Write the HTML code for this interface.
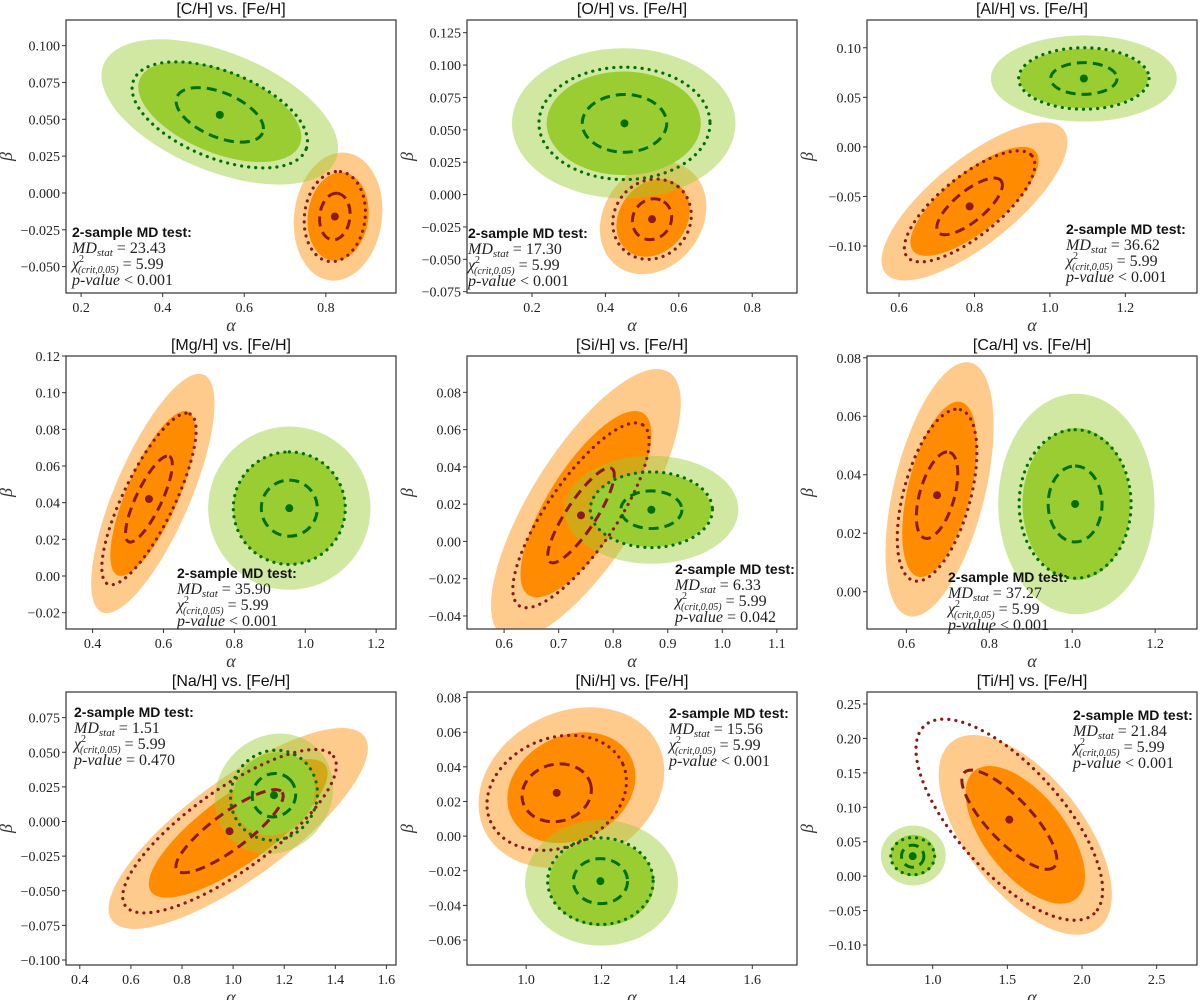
<!DOCTYPE html>
<html><head><meta charset="utf-8">
<style>
html,body{margin:0;padding:0;background:#fff;}
svg{display:block;font-family:"Liberation Serif",serif;}
.tk{font-size:14px;fill:#222;}
.ttl{font-family:"Liberation Sans",sans-serif;font-size:16px;fill:#111;}
.ann{font-size:16px;fill:#222;}
</style></head>
<body>
<svg id="fig" width="1200" height="1000" viewBox="0 0 1200 1000" xmlns="http://www.w3.org/2000/svg"></svg>
<script>
// ---- data ----
const titles = ["[C/H] vs. [Fe/H]","[O/H] vs. [Fe/H]","[Al/H] vs. [Fe/H]","[Mg/H] vs. [Fe/H]","[Si/H] vs. [Fe/H]","[Ca/H] vs. [Fe/H]","[Na/H] vs. [Fe/H]","[Ni/H] vs. [Fe/H]","[Ti/H] vs. [Fe/H]"];
const xTickVals = [[0.2,0.4,0.6,0.8],[0.2,0.4,0.6,0.8],[0.6,0.8,1.0,1.2],[0.4,0.6,0.8,1.0,1.2],[0.6,0.7,0.8,0.9,1.0,1.1],[0.6,0.8,1.0,1.2],[0.4,0.6,0.8,1.0,1.2,1.4,1.6],[1.0,1.2,1.4,1.6],[1.0,1.5,2.0,2.5]];
const xTickDec = [1,1,1,1,1,1,1,1,1];
const yTickVals = [[-0.05,-0.025,0,0.025,0.05,0.075,0.1],[-0.075,-0.05,-0.025,0,0.025,0.05,0.075,0.1,0.125],[-0.1,-0.05,0,0.05,0.1],[-0.02,0,0.02,0.04,0.06,0.08,0.1,0.12],[-0.04,-0.02,0,0.02,0.04,0.06,0.08],[0,0.02,0.04,0.06,0.08],[-0.1,-0.075,-0.05,-0.025,0,0.025,0.05,0.075],[-0.06,-0.04,-0.02,0,0.02,0.04,0.06,0.08],[-0.1,-0.05,0,0.05,0.1,0.15,0.2,0.25]];
const yTickDec = [3,3,2,2,2,2,3,2,2];
const xRanges = [[0.163,0.972],[0.023,0.922],[0.515,1.39],[0.325,1.256],[0.532,1.137],[0.505,1.301],[0.346,1.6375],[0.843,1.7186],[0.56,2.77]];
const yRanges = [[-0.0679,0.1174],[-0.076,0.1348],[-0.1474,0.128],[-0.0289,0.12],[-0.047,0.0995],[-0.01275,0.0806],[-0.1036,0.0935],[-0.0744,0.0832],[-0.129,0.2674]];
const orangeMean = [[0.822,-0.016],[0.527,-0.019],[0.787,-0.060],[0.559,0.042],[0.741,0.014],[0.674,0.033],[0.986,-0.007],[1.081,0.025],[1.513,0.082]];
const greenMean  = [[0.540,0.053],[0.452,0.055],[1.090,0.069],[0.955,0.037],[0.870,0.017],[1.007,0.030],[1.160,0.019],[1.197,-0.026],[0.866,0.029]];
const orangeDash = [[0.0375,0.0158,0.1],[0.0535,0.0158,0.1],[0.087,0.0286,0.75],[0.066,0.0235,0.8],[0.061,0.0255,0.85],[0.05,0.0148,0.5],[0.21,0.030,0.85],[0.092,0.0167,0.1],[0.318,0.072,-0.8]];
const orangeDot  = [[0.075,0.0306,0.1],[0.107,0.031,0.1],[0.173,0.056,0.75],[0.133,0.0468,0.8],[0.125,0.0496,0.8],[0.096,0.0294,0.5],[0.418,0.059,0.8],[0.185,0.0332,0.2],[0.625,0.146,-0.7]];
const greenDash  = [[0.107,0.0185,-0.5],[0.115,0.0223,0],[0.088,0.016,0],[0.079,0.0153,0],[0.056,0.0101,0],[0.065,0.013,0],[0.085,0.0157,0.05],[0.072,0.013,0],[0.075,0.016,0]];
const greenDot   = [[0.215,0.036,-0.5],[0.233,0.0434,0],[0.173,0.031,0],[0.158,0.0307,0],[0.112,0.0203,0],[0.135,0.0254,0],[0.17,0.0325,0.05],[0.14,0.025,0],[0.147,0.027,0]];
const orangeCloud = [[0.83,-0.016,0.075,0.03,0.1],[0.53,-0.018,0.1,0.03,0.2],[0.8,-0.055,0.17,0.055,0.75],[0.57,0.045,0.12,0.045,0.75],[0.75,0.02,0.12,0.05,0.75],[0.68,0.035,0.09,0.03,0.5],[1.02,-0.005,0.35,0.05,0.8],[1.12,0.028,0.17,0.032,0.2],[1.62,0.06,0.4,0.1,-0.6]];
const greenCloud  = [[0.54,0.055,0.2,0.034,-0.5],[0.45,0.055,0.21,0.04,0],[1.09,0.069,0.17,0.03,0],[0.955,0.037,0.158,0.0307,0],[0.87,0.017,0.11,0.02,0],[1.01,0.03,0.13,0.026,0],[1.16,0.02,0.16,0.03,0.1],[1.2,-0.027,0.14,0.025,0],[0.87,0.03,0.15,0.03,0]];
const mdStat = ["23.43","17.30","36.62","35.90","6.33","37.27","1.51","15.56","21.84"];
const pValue = ["< 0.001","< 0.001","< 0.001","< 0.001","= 0.042","< 0.001","= 0.470","< 0.001","< 0.001"];

const colL = [66,467,867], colW = 330;
const rowT = [20,356,692], rowH = 273;
const annPos = [[72,232],[468,233],[1066,229],[177,573],[675,569],[948,577],[74,712],[669,713],[1073,715]];
const ORANGE="#ff8c00", GREEN="#9acd32", DGREEN="#007000", DRED="#8b1a1a";

const NS="http://www.w3.org/2000/svg";
const fig=document.getElementById('fig');
function mk(tag,attrs,parent){const e=document.createElementNS(NS,tag);for(const k in attrs)e.setAttribute(k,attrs[k]);(parent||fig).appendChild(e);return e;}
function fmt(v,d){const s=Math.abs(v).toFixed(d);return (v<-1e-12?"\u2212":"")+s;}

function ellipse(g,sx,sy,cx,cy,ex,ey,rho,scale,attrs){
  const a=(ex*scale*sx.k)**2, b=(ey*scale*sy.k)**2, c=-rho*(ex*scale*sx.k)*(ey*scale*sy.k);
  const m=(a+b)/2, d=Math.sqrt(((a-b)/2)**2+c*c);
  const l1=m+d, l2=Math.max(m-d,0.01);
  const th=0.5*Math.atan2(2*c,a-b)*180/Math.PI;
  const px=sx(cx), py=sy(cy);
  return mk('ellipse',Object.assign({cx:px,cy:py,rx:Math.sqrt(l1),ry:Math.sqrt(l2),transform:`rotate(${th} ${px} ${py})`},attrs),g);
}

for(let i=0;i<9;i++){
  const L=colL[i%3], T=rowT[Math.floor(i/3)], B=T+rowH;
  const [x0,x1]=xRanges[i],[y0,y1]=yRanges[i];
  const sx=v=>L+(v-x0)/(x1-x0)*colW; sx.k=colW/(x1-x0);
  const sy=v=>B-(v-y0)/(y1-y0)*rowH; sy.k=rowH/(y1-y0);
  const g=mk('g',{});
  
  
  const cid='clip'+i;
  const cp=mk('clipPath',{id:cid},g); mk('rect',{x:L,y:T,width:colW,height:rowH},cp);
  const pg=mk('g',{'clip-path':`url(#${cid})`},g);
  const oc=orangeCloud[i], gc=greenCloud[i];
  let e;
  e=ellipse(pg,sx,sy,oc[0],oc[1],oc[2],oc[3],oc[4],1.45,{fill:ORANGE,opacity:0.45});
   
  e=ellipse(pg,sx,sy,oc[0],oc[1],oc[2],oc[3],oc[4],1.0,{fill:ORANGE});
   
  e=ellipse(pg,sx,sy,gc[0],gc[1],gc[2],gc[3],gc[4],1.45,{fill:GREEN,opacity:0.45});
   
  e=ellipse(pg,sx,sy,gc[0],gc[1],gc[2],gc[3],gc[4],1.0,{fill:GREEN});
   
  const dash={fill:'none','stroke-width':3,'stroke-dasharray':'10 6'};
  const dot={fill:'none','stroke-width':3.2,'stroke-dasharray':'0.1 7','stroke-linecap':'round'};
  let od=orangeDot[i], oh=orangeDash[i], gd=greenDot[i], gh=greenDash[i];
  e=ellipse(pg,sx,sy,orangeMean[i][0],orangeMean[i][1],od[0],od[1],od[2],1,Object.assign({stroke:DRED},dot));
   
  e=ellipse(pg,sx,sy,orangeMean[i][0],orangeMean[i][1],oh[0],oh[1],oh[2],1,Object.assign({stroke:DRED},dash));
   
  e=ellipse(pg,sx,sy,greenMean[i][0],greenMean[i][1],gd[0],gd[1],gd[2],1,Object.assign({stroke:DGREEN},dot));
   
  e=ellipse(pg,sx,sy,greenMean[i][0],greenMean[i][1],gh[0],gh[1],gh[2],1,Object.assign({stroke:DGREEN},dash));
   
  e=mk('circle',{cx:sx(orangeMean[i][0]),cy:sy(orangeMean[i][1]),r:4,fill:DRED},pg);
   
  e=mk('circle',{cx:sx(greenMean[i][0]),cy:sy(greenMean[i][1]),r:4,fill:DGREEN},pg);
   
  e=mk('rect',{x:L,y:T,width:colW,height:rowH,fill:'none',stroke:'#333','stroke-width':1.2},g);
   
  xTickVals[i].forEach(v=>{
    const x=sx(v);
    mk('line',{x1:x,x2:x,y1:B,y2:B+4,stroke:'#333'},g);
    const t=mk('text',{x:x,y:B+19,'text-anchor':'middle',class:'tk'},g); t.textContent=fmt(v,xTickDec[i]);
     
  });
  yTickVals[i].forEach(v=>{
    const y=sy(v);
    mk('line',{x1:L-4,x2:L,y1:y,y2:y,stroke:'#333'},g);
    const t=mk('text',{x:L-6,y:y+5,'text-anchor':'end',class:'tk'},g); t.textContent=fmt(v,yTickDec[i]);
     
  });
  let t=mk('text',{x:L+colW/2,y:B+38,'text-anchor':'middle','font-size':18,'font-style':'italic',fill:'#333'},g); t.textContent='\u03b1';
   
  const yc=T+rowH/2;
  t=mk('text',{x:L-54,y:yc,'text-anchor':'middle','font-size':18,'font-style':'italic',fill:'#333',transform:`rotate(-90 ${L-54} ${yc})`},g); t.textContent='\u03b2';
   
  t=mk('text',{x:L+colW/2,y:T-6,'text-anchor':'middle',class:'ttl'},g); t.textContent=titles[i];
   
  const [ax,ay]=annPos[i];
  const ag=mk('g',{},g);
   
  t=mk('text',{x:ax,y:ay+5,'font-family':'Liberation Sans, sans-serif','font-size':14,'font-weight':'bold',fill:'#111'},ag); t.textContent='2-sample MD test:';
  t=mk('text',{x:ax,y:ay+21,class:'ann'},ag);
  t.innerHTML='<tspan font-style="italic">MD</tspan><tspan font-style="italic" font-size="11" dy="3">stat</tspan><tspan dy="-3"> = '+mdStat[i]+'</tspan>';
  t=mk('text',{x:ax,y:ay+37,class:'ann'},ag);
  t.innerHTML='<tspan font-style="italic">\u03c7</tspan><tspan font-size="10" dy="-7">2</tspan><tspan font-size="10" font-style="italic" dx="-6" dy="11">(crit,0.05)</tspan><tspan dy="-4"> = 5.99</tspan>';
  t=mk('text',{x:ax,y:ay+53,class:'ann'},ag);
  t.innerHTML='<tspan font-style="italic">p-value</tspan> '+pValue[i];
}
</script>
</body></html>
